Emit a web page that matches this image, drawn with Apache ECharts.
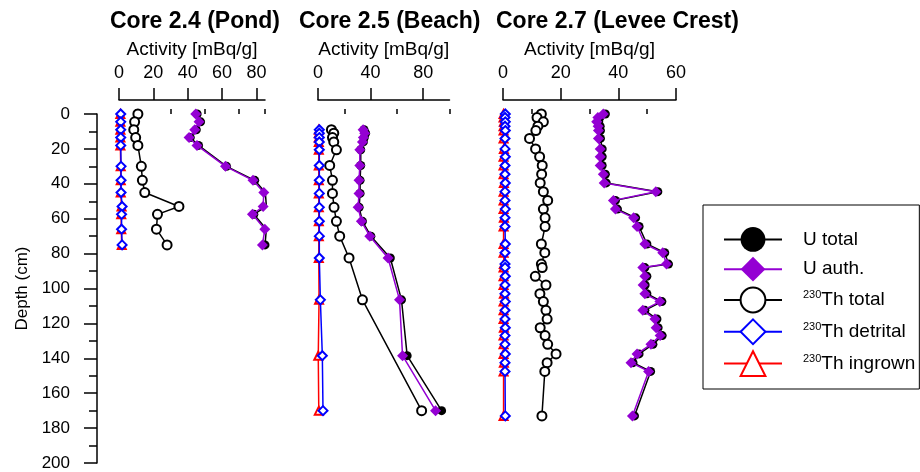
<!DOCTYPE html>
<html>
<head>
<meta charset="utf-8">
<script src="https://cdn.jsdelivr.net/npm/echarts@6/dist/echarts.min.js"></script>
<style>
  html, body { margin: 0; padding: 0; background: #fff; }
  #chart { width: 920px; height: 472px; }
</style>
</head>
<body>
<div id="chart"></div>
<script>
// Core 2.4 (Pond)
var depth24 = [0, 4.5, 9, 13.5, 18, 30, 38, 45, 53, 57.5, 66, 75];
var uTot24  = [45.5, 47.5, 45, 41.5, 46.3, 62.6, 79, 85.2, 85.8, 78.5, 85.8, 85];
var uAuth24 = [44.7, 46.6, 44.1, 40.8, 45.4, 62, 78, 84.3, 83.9, 77.7, 84.9, 83.5];
var thTot24 = [11, 9.1, 8.6, 9.7, 11, 13, 13.6, 15, 34.9, 22.4, 21.8, 28];
var thDet24 = [1, 1, 1, 1, 1, 1.2, 1.2, 1.2, 1.8, 1.5, 1.5, 1.8];
var thIng24 = [0.8, 0.8, 0.8, 0.8, 0.8, 1, 1, 1, 1.5, 1.3, 1.3, 1.6];

// Core 2.5 (Beach)
var depth25 = [9, 11, 13.5, 16, 20.5, 29.5, 38, 45.5, 53.5, 61.5, 70, 82.5, 106.5, 138.5, 170];
var uTot25  = [35, 36.2, 35.2, 34.5, 32.5, 32.5, 32, 32, 31.3, 33.8, 40.2, 55, 63.5, 67.8, 94];
var uAuth25 = [34.3, 35.5, 34.5, 33.8, 31.8, 31.8, 31.2, 31.2, 30.5, 33, 39.4, 53.3, 62, 64.3, 89.4];
var thTot25 = [10.2, 12, 11, 12, 14, 8.9, 11, 11, 12.2, 14, 16.5, 23.6, 33.8, null, 78.8];
var thDet25 = [1, 1, 1, 1, 1, 1, 1, 1, 1, 1, 1, 1, 1.8, 3.3, 3.8];
var thIng25 = [0.6, 0.6, 0.6, 0.6, 0.6, 0.6, 0.6, 0.6, 0.6, 0.6, 0.6, 0.6, 0.8, 0.2, 0.6];

// Core 2.7 (Levee Crest)
var depth27 = [0, 2, 4.5, 7, 9.5, 14, 20, 24.5, 29.5, 34.5, 39.5, 44.5, 49.5, 54.5, 59.5, 64.5, 74.5,
  79.5, 86, 88, 93, 98, 103, 107.5, 112.5, 117.5, 122.5, 127, 132, 137.5, 142.5, 147.5, 173];
var uTot27  = [35.5, 33.6, 33.2, 33.7, 33.8, 33.8, 34.4, 34.4, 34.4, 35.5, 35.8, 53.7, 39, 39.7, 46, 47.2, 49.9,
  56.1, 57.4, 49.2, 49.9, 49.3, 49.9, 55.1, 49.2, 53.4, 53.8, 55.2, 52, 47.2, 45.1, 51.2, 45.6];
var uAuth27 = [34.8, 32.9, 32.5, 33, 33.1, 33.1, 33.7, 33.7, 33.7, 34.8, 35.1, 53, 38.3, 39, 45.3, 46.5, 49.2,
  55.4, 56.7, 48.5, 49.2, 48.6, 49.2, 54.4, 48.5, 52.7, 53.1, 54.5, 51.3, 46.5, 44.4, 50.5, 44.9];
var thTot27 = [13.3, 11.8, 14, 12.1, 11.4, 9.2, 11.3, 12.7, 13.6, 13.4, 12.9, 14, 15.5, 14, 14.6, 14.6, 13.3,
  14.5, 13.3, 13.6, 11.2, 14.9, 12.8, 14, 14.9, 15.3, 12.9, 14.6, 15.5, 18.4, 15.3, 14.5, 13.5];
var thDet27 = [0.8, 0.7, 0.8, 0.7, 0.8, 0.7, 0.7, 0.8, 0.7, 0.7, 0.8, 0.7, 0.7, 0.8, 0.7, 0.7, 0.8,
  0.7, 0.7, 0.7, 0.8, 0.7, 0.7, 0.8, 0.7, 0.7, 0.8, 0.7, 0.7, 0.8, 0.7, 0.7, 0.8];
var thIng27 = [0.2, 0.2, 0.3, 0.2, 0.2, 0.2, 0.3, 0.2, 0.2, 0.2, 0.3, 0.2, 0.2, 0.2, 0.3, 0.2, 0.2,
  0.2, 0.3, 0.2, 0.2, 0.2, 0.3, 0.2, 0.2, 0.2, 0.3, 0.2, 0.2, 0.2, 0.3, 0.2, 0.2];

var titles = ['Core 2.4 (Pond)', 'Core 2.5 (Beach)', 'Core 2.7 (Levee Crest)'];
var seriesNames = ['U total', 'U auth.', '230Th total', '230Th detrital', '230Th ingrown'];
var majorTicks = [[0, 20, 40, 60, 80], [0, 40, 80], [0, 20, 40, 60]];
var minorTicks = [[10, 30, 50, 70, 85], [20, 60, 100], [10, 30, 50]];
var axisMax = [85, 100, 60];

var FONT = 'Liberation Sans, Arial, sans-serif';

// panel layout: left edge, width, title start
var panels = [
  {left: 119, width: 146, tx: 110},
  {left: 318, width: 131.5, tx: 299},
  {left: 503, width: 173, tx: 496}
];

function pairs(vals, depths) {
  var res = [];
  for (var i = 0; i < vals.length; i++) {
    if (vals[i] != null) res.push([vals[i], depths[i]]);
  }
  return res;
}

var coreData = [
  {d: depth24, u: uTot24, ua: uAuth24, tt: thTot24, td: thDet24, ti: thIng24},
  {d: depth25, u: uTot25, ua: uAuth25, tt: thTot25, td: thDet25, ti: thIng25},
  {d: depth27, u: uTot27, ua: uAuth27, tt: thTot27, td: thDet27, ti: thIng27}
];

var grids = [], xAxes = [], yAxes = [], series = [], graphics = [];

panels.forEach(function (p, i) {
  grids.push({left: p.left, width: p.width, top: 114, height: 349});

  // main axis: labels and long ticks
  xAxes.push({
    gridIndex: i, type: 'value', position: 'top', offset: 14,
    min: 0, max: axisMax[i],
    axisLine: {show: true, onZero: false, lineStyle: {color: '#000', width: 1.5}},
    axisTick: {show: true, length: 12, customValues: majorTicks[i], lineStyle: {color: '#000', width: 1.5}},
    axisLabel: {customValues: majorTicks[i], fontSize: 18, color: '#000', margin: 18, fontFamily: FONT},
    splitLine: {show: false},
    name: 'Activity [mBq/g]', nameLocation: 'middle', nameGap: 41,
    nameTextStyle: {fontSize: 19, color: '#000', fontFamily: FONT}
  });
  // short ticks
  xAxes.push({
    gridIndex: i, type: 'value', position: 'top', offset: 14,
    min: 0, max: axisMax[i],
    axisLine: {show: false},
    axisTick: {show: true, length: 5, customValues: minorTicks[i], lineStyle: {color: '#000', width: 1.5}},
    axisLabel: {show: false},
    splitLine: {show: false}
  });

  if (i === 0) {
    yAxes.push({
      gridIndex: 0, type: 'value', position: 'left', offset: 22, inverse: true,
      min: 0, max: 200, interval: 20,
      axisLine: {show: true, onZero: false, lineStyle: {color: '#000', width: 1.5}},
      axisTick: {show: true, length: 13, lineStyle: {color: '#000', width: 1.5}},
      minorTick: {show: true, splitNumber: 2, length: 8, lineStyle: {color: '#000', width: 1.5}},
      axisLabel: {fontSize: 17, color: '#000', margin: 27, fontFamily: FONT},
      splitLine: {show: false},
      name: 'Depth (cm)', nameLocation: 'middle', nameGap: 66,
      nameTextStyle: {fontSize: 17, color: '#000', fontFamily: FONT}
    });
  } else {
    yAxes.push({gridIndex: i, type: 'value', inverse: true, min: 0, max: 200, show: false});
  }

  var c = coreData[i];
  var xi = i * 2;
  series.push({
    name: seriesNames[0], type: 'line', xAxisIndex: xi, yAxisIndex: i,
    data: pairs(c.u, c.d), symbol: 'circle', symbolSize: 9,
    itemStyle: {color: '#000'}, lineStyle: {color: '#000', width: 1.5}, z: 2
  });
  series.push({
    name: seriesNames[1], type: 'line', xAxisIndex: xi, yAxisIndex: i,
    data: pairs(c.ua, c.d), symbol: 'diamond', symbolSize: 11,
    itemStyle: {color: '#9400d3'}, lineStyle: {color: '#9400d3', width: 1.5}, z: 3
  });
  series.push({
    name: seriesNames[2], type: 'line', xAxisIndex: xi, yAxisIndex: i,
    data: pairs(c.tt, c.d), symbol: 'emptyCircle', symbolSize: 9,
    itemStyle: {color: '#000', borderWidth: 1.3}, lineStyle: {color: '#000', width: 1.5}, z: 3
  });
  series.push({
    name: seriesNames[4], type: 'line', xAxisIndex: xi, yAxisIndex: i,
    data: pairs(c.ti, c.d), symbol: 'emptyTriangle', symbolSize: 8,
    itemStyle: {color: '#ff0000', borderWidth: 1.3}, lineStyle: {color: '#ff0000', width: 1.5}, z: 3
  });
  series.push({
    name: seriesNames[3], type: 'line', xAxisIndex: xi, yAxisIndex: i,
    data: pairs(c.td, c.d), symbol: 'emptyDiamond', symbolSize: 9,
    itemStyle: {color: '#0000ff', borderWidth: 1.3}, lineStyle: {color: '#0000ff', width: 1.5}, z: 4
  });

  graphics.push({
    type: 'text', x: p.tx, y: 22,
    style: {text: titles[i], fontSize: 23, fontWeight: 'bold', fill: '#000', fontFamily: FONT,
      align: 'left', verticalAlign: 'middle'}
  });
});

var chart = echarts.init(document.getElementById('chart'), null, {renderer: 'canvas'});
chart.setOption({
  backgroundColor: '#fff',
  animation: false,
  textStyle: {fontFamily: FONT},
  grid: grids,
  xAxis: xAxes,
  yAxis: yAxes,
  graphic: graphics,
  legend: {
    orient: 'vertical', left: 703, top: 205,
    itemWidth: 58, itemHeight: 31, itemGap: 5,
    padding: [22, 4, 12, 20],
    borderColor: '#000', borderWidth: 1,
    data: seriesNames,
    formatter: function (name) {
      if (name.indexOf('230') === 0) return '{sup|230}{b|' + name.slice(3) + '}';
      return '{a|' + name + '}';
    },
    textStyle: {
      fontSize: 19, color: '#000', fontFamily: FONT,
      rich: {
        a: {fontSize: 19, color: '#000', fontFamily: FONT, padding: [0, 0, 0, 16]},
        b: {fontSize: 19, color: '#000', fontFamily: FONT},
        sup: {fontSize: 11, color: '#000', fontFamily: FONT, padding: [0, 0, 10, 16]}
      }
    }
  },
  series: series
});
</script>
</body>
</html>
